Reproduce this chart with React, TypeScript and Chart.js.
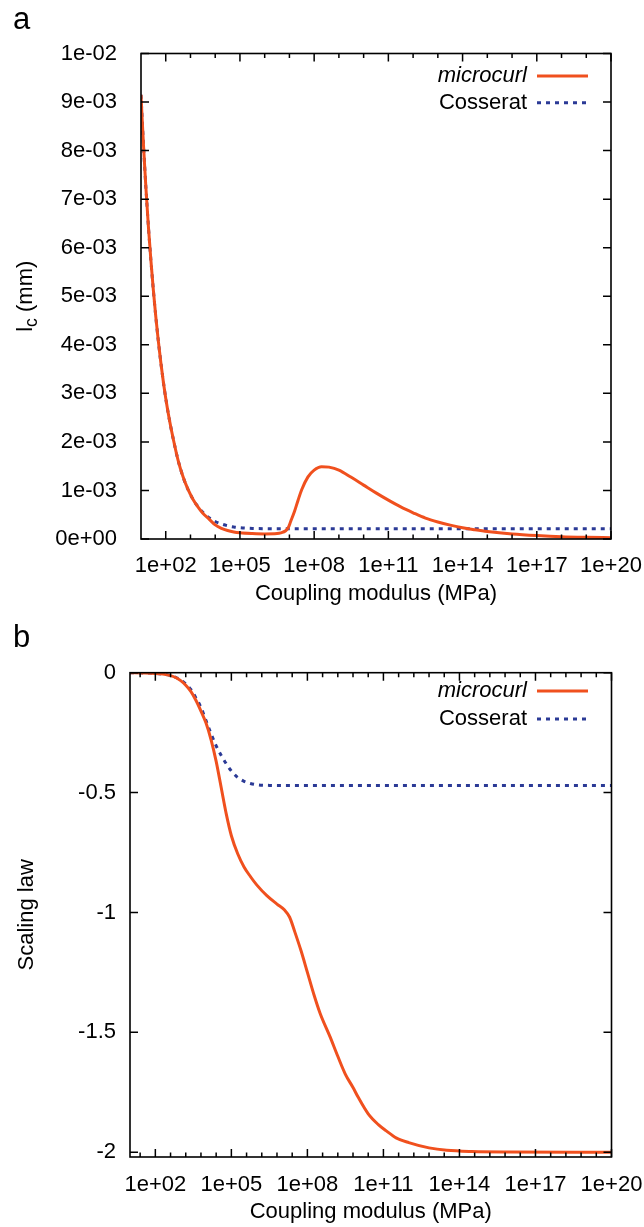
import React, { useEffect, useRef } from "react";
import { Chart, registerables } from "chart.js";

Chart.register(...registerables);

const FONT = '"Liberation Sans", Arial, Helvetica, sans-serif';
const ORANGE = "#f0501e";
const BLUE = "#2b3a96";

// Panel a: internal length l_c (mm) versus coupling modulus (exponent of 10, MPa)
const lcExponents = [
  1.0, 1.05, 1.1, 1.15, 1.2, 1.3, 1.4, 1.5, 1.6, 1.7, 1.8, 1.9, 2.0, 2.15, 2.3, 2.5, 2.7, 2.9,
  3.1, 3.3, 3.5, 3.75, 4.0, 4.25, 4.5, 4.75, 5.0, 5.5, 6.0, 6.5, 6.65, 6.85, 6.95, 7.05, 7.2,
  7.35, 7.5, 7.75, 8.0, 8.3, 8.6, 9.0, 9.5, 10.0, 10.5, 11.0, 11.5, 12.0, 12.5, 13.0, 13.5,
  14.0, 14.5, 15.0, 16.0, 17.0, 18.0, 19.0, 20.0,
];
const lcMicrocurl = [
  9.15e-3, 8.62e-3, 8.12e-3, 7.66e-3, 7.22e-3, 6.43e-3, 5.74e-3, 5.12e-3, 4.57e-3, 4.08e-3,
  3.64e-3, 3.25e-3, 2.9e-3, 2.45e-3, 2.07e-3, 1.62e-3, 1.28e-3, 1.02e-3, 0.82e-3, 0.66e-3,
  0.53e-3, 0.41e-3, 0.29e-3, 0.22e-3, 0.175e-3, 0.145e-3, 0.128e-3, 0.112e-3, 0.104e-3,
  0.112e-3, 0.126e-3, 0.17e-3, 0.23e-3, 0.36e-3, 0.56e-3, 0.8e-3, 1.02e-3, 1.28e-3, 1.42e-3,
  1.49e-3, 1.48e-3, 1.42e-3, 1.27e-3, 1.11e-3, 0.95e-3, 0.8e-3, 0.66e-3, 0.54e-3, 0.43e-3,
  0.35e-3, 0.285e-3, 0.23e-3, 0.19e-3, 0.155e-3, 0.105e-3, 0.072e-3, 0.048e-3, 0.035e-3,
  0.027e-3,
];
const lcCosseratExponents = [
  1.0, 1.05, 1.1, 1.15, 1.2, 1.3, 1.4, 1.5, 1.6, 1.7, 1.8, 1.9, 2.0, 2.15, 2.3, 2.5, 2.7, 2.9,
  3.1, 3.3, 3.5, 3.75, 4.0, 4.25, 4.5, 4.75, 5.0, 5.5, 6.0, 6.5, 7.0, 10.0, 14.0, 20.0,
];
const lcCosserat = [
  9.15e-3, 8.62e-3, 8.12e-3, 7.66e-3, 7.22e-3, 6.43e-3, 5.74e-3, 5.12e-3, 4.57e-3, 4.08e-3,
  3.64e-3, 3.25e-3, 2.9e-3, 2.45e-3, 2.07e-3, 1.62e-3, 1.28e-3, 1.02e-3, 0.82e-3, 0.67e-3,
  0.55e-3, 0.44e-3, 0.36e-3, 0.31e-3, 0.272e-3, 0.248e-3, 0.233e-3, 0.218e-3, 0.212e-3,
  0.21e-3, 0.21e-3, 0.21e-3, 0.21e-3, 0.21e-3,
];

// Panel b: scaling law exponent versus coupling modulus
const scalingExponents = [
  1.0, 1.5, 2.0, 2.3, 2.6, 2.8, 3.0, 3.2, 3.4, 3.6, 3.8, 4.0, 4.2, 4.4, 4.6, 4.8, 5.0, 5.25,
  5.5, 5.75, 6.0, 6.4, 6.8, 7.1, 7.3, 7.5, 7.75, 8.0, 8.25, 8.5, 8.9, 9.2, 9.5, 9.8, 10.0,
  10.4, 10.8, 11.1, 11.5, 12.0, 12.8, 13.5, 14.5, 16.0, 20.0,
];
const scalingMicrocurl = [
  0, -0.001, -0.003, -0.006, -0.012, -0.02, -0.033, -0.052, -0.078, -0.115, -0.16, -0.21,
  -0.28, -0.37, -0.48, -0.59, -0.68, -0.755, -0.81, -0.85, -0.885, -0.93, -0.965, -0.99,
  -1.02, -1.08, -1.16, -1.25, -1.34, -1.42, -1.52, -1.6, -1.675, -1.73, -1.77, -1.84,
  -1.885, -1.91, -1.94, -1.96, -1.982, -1.992, -1.997, -1.999, -2.0,
];
const scalingCosseratExponents = [
  1.0, 1.5, 2.0, 2.3, 2.6, 2.8, 3.0, 3.2, 3.4, 3.6, 3.8, 4.0, 4.2, 4.4, 4.6, 4.8, 5.0, 5.25,
  5.5, 5.75, 6.0, 6.5, 7.0, 12.0, 20.0,
];
const scalingCosserat = [
  0, -0.001, -0.003, -0.006, -0.012, -0.019, -0.03, -0.047, -0.07, -0.105, -0.145, -0.2,
  -0.255, -0.305, -0.345, -0.38, -0.41, -0.437, -0.453, -0.462, -0.467, -0.47, -0.471,
  -0.471, -0.471,
];

// Axis ticks
const xMajorTicks = [1e2, 1e5, 1e8, 1e11, 1e14, 1e17, 1e20];
const xTickLabels = ["1e+02", "1e+05", "1e+08", "1e+11", "1e+14", "1e+17", "1e+20"];
const xMinorExponentsA = [3, 4, 6, 7, 9, 10, 12, 13, 15, 16, 18, 19];
const xMinorExponentsB = [
  1.4, 2.6, 3.2, 3.8, 4.4, 5.6, 6.2, 6.8, 7.4, 8.6, 9.2, 9.8, 10.4, 11.6, 12.2, 12.8, 13.4,
  14.6, 15.2, 15.8, 16.4, 17.6, 18.2, 18.8, 19.4,
];
const yTicksA = [0, 1e-3, 2e-3, 3e-3, 4e-3, 5e-3, 6e-3, 7e-3, 8e-3, 9e-3, 1e-2];
const yTickLabelsA = [
  "0e+00", "1e-03", "2e-03", "3e-03", "4e-03", "5e-03", "6e-03", "7e-03", "8e-03", "9e-03", "1e-02",
];
const yTicksB = [0, -0.5, -1, -1.5, -2];
const yTickLabelsB = ["0", "-0.5", "-1", "-1.5", "-2"];

const seriesLabels = ["microcurl", "Cosserat"];
const legendItalic = [true, false];

const toPoints = (exps: number[], vals: number[]) =>
  exps.map((e, i) => ({ x: Math.pow(10, e), y: vals[i] }));

interface PanelSpec {
  width: number;
  height: number;
  area: { left: number; right: number; top: number; bottom: number };
  letter: string;
  letterBaseline: number;
  yMin: number;
  yMax: number;
  yTicks: number[];
  yTickLabels: string[];
  yTickPad: number;
  xTickPad: number;
  xMinorExponents: number[];
  xTitleBaseline: number;
  yTitleBaselineX: number;
  yTitle: "lc" | "scaling";
  legendRows: number[];
  legendTextRight: number;
  legendSample: [number, number];
  microcurl: { x: number; y: number }[];
  cosserat: { x: number; y: number }[];
}

function makeChart(canvas: HTMLCanvasElement, p: PanelSpec) {
  const decoration = {
    id: "decoration",
    afterDatasetsDraw(chart: any) {
      const { ctx, chartArea: a, scales } = chart;
      const xs = scales.x;
      const ys = scales.y;
      ctx.save();
      ctx.strokeStyle = "#000";
      ctx.lineWidth = 1.5;
      ctx.beginPath();
      const xTick = (v: number, len: number) => {
        const px = xs.getPixelForValue(v);
        ctx.moveTo(px, a.bottom);
        ctx.lineTo(px, a.bottom - len);
        ctx.moveTo(px, a.top);
        ctx.lineTo(px, a.top + len);
      };
      xMajorTicks.forEach((v) => xTick(v, 8));
      p.xMinorExponents.forEach((e) => xTick(Math.pow(10, e), 4.5));
      p.yTicks.forEach((v) => {
        const py = ys.getPixelForValue(v);
        ctx.moveTo(a.left, py);
        ctx.lineTo(a.left + 8, py);
        ctx.moveTo(a.right, py);
        ctx.lineTo(a.right - 8, py);
      });
      ctx.stroke();
      ctx.lineWidth = 1.6;
      ctx.strokeRect(a.left, a.top, a.right - a.left, a.bottom - a.top);

      // legend
      ctx.textBaseline = "middle";
      ctx.textAlign = "right";
      chart.data.datasets.forEach((ds: any, i: number) => {
        const yy = p.legendRows[i];
        ctx.fillStyle = "#000";
        ctx.font = `${legendItalic[i] ? "italic " : ""}22px ${FONT}`;
        ctx.fillText(ds.label, p.legendTextRight, yy);
        ctx.save();
        ctx.strokeStyle = ds.borderColor;
        ctx.lineWidth = ds.borderWidth;
        ctx.setLineDash(ds.borderDash || []);
        ctx.beginPath();
        ctx.moveTo(p.legendSample[0], yy);
        ctx.lineTo(p.legendSample[1], yy);
        ctx.stroke();
        ctx.restore();
      });

      // axis titles
      ctx.fillStyle = "#000";
      ctx.textAlign = "center";
      ctx.textBaseline = "alphabetic";
      ctx.font = `22px ${FONT}`;
      ctx.fillText("Coupling modulus (MPa)", (a.left + a.right) / 2, p.xTitleBaseline);

      ctx.save();
      ctx.translate(p.yTitleBaselineX, (a.top + a.bottom) / 2);
      ctx.rotate(-Math.PI / 2);
      ctx.textAlign = "left";
      if (p.yTitle === "lc") {
        const mainFont = `22px ${FONT}`;
        const subFont = `17.6px ${FONT}`;
        ctx.font = mainFont;
        const w1 = ctx.measureText("l").width;
        const w3 = ctx.measureText(" (mm)").width;
        ctx.font = subFont;
        const w2 = ctx.measureText("c").width;
        let cx = -(w1 + w2 + w3) / 2;
        ctx.font = mainFont;
        ctx.fillText("l", cx, 0);
        cx += w1;
        ctx.font = subFont;
        ctx.fillText("c", cx, 5);
        cx += w2;
        ctx.font = mainFont;
        ctx.fillText(" (mm)", cx, 0);
      } else {
        ctx.textAlign = "center";
        ctx.fillText("Scaling law", 0, 0);
      }
      ctx.restore();

      // panel letter
      ctx.textAlign = "left";
      ctx.font = `31px ${FONT}`;
      ctx.fillText(p.letter, 13, p.letterBaseline);
      ctx.restore();
    },
  };

  return new Chart(canvas, {
    type: "line",
    data: {
      datasets: [
        {
          label: seriesLabels[0],
          data: p.microcurl,
          borderColor: ORANGE,
          borderWidth: 3,
          pointRadius: 0,
          cubicInterpolationMode: "monotone",
          fill: false,
        },
        {
          label: seriesLabels[1],
          data: p.cosserat,
          borderColor: BLUE,
          borderWidth: 3,
          borderDash: [4, 5],
          borderCapStyle: "butt",
          pointRadius: 0,
          cubicInterpolationMode: "monotone",
          fill: false,
        },
      ],
    },
    options: {
      responsive: false,
      animation: false,
      devicePixelRatio: 1,
      layout: {
        padding: {
          left: 0,
          right: p.width - p.area.right,
          top: p.area.top,
          bottom: 0,
        },
      },
      plugins: {
        legend: { display: false },
        tooltip: { enabled: false },
      },
      scales: {
        x: {
          type: "logarithmic",
          min: 10,
          max: 1e20,
          grid: { display: false, drawTicks: false },
          border: { display: false },
          afterBuildTicks: (s: any) => {
            s.ticks = xMajorTicks.map((v) => ({ value: v }));
          },
          afterFit: (s: any) => {
            s.height = p.height - p.area.bottom;
            s.paddingLeft = 0;
            s.paddingRight = 0;
          },
          ticks: {
            autoSkip: false,
            maxRotation: 0,
            minRotation: 0,
            padding: p.xTickPad,
            color: "#000",
            font: { family: FONT, size: 22 },
            callback: (_v: any, i: number) => xTickLabels[i],
          },
        },
        y: {
          type: "linear",
          min: p.yMin,
          max: p.yMax,
          grid: { display: false, drawTicks: false },
          border: { display: false },
          afterBuildTicks: (s: any) => {
            s.ticks = p.yTicks.map((v) => ({ value: v }));
          },
          afterFit: (s: any) => {
            s.width = p.area.left;
            s.paddingTop = 0;
            s.paddingBottom = 0;
          },
          ticks: {
            autoSkip: false,
            padding: p.yTickPad,
            color: "#000",
            font: { family: FONT, size: 22 },
            callback: (_v: any, i: number) => p.yTickLabels[i],
          },
        },
      },
    } as any,
    plugins: [decoration as any],
  });
}

const panelA: PanelSpec = {
  width: 644,
  height: 614,
  area: { left: 141, right: 611, top: 53.5, bottom: 539 },
  letter: "a",
  letterBaseline: 29,
  yMin: 0,
  yMax: 0.01,
  yTicks: yTicksA,
  yTickLabels: yTickLabelsA,
  yTickPad: 24,
  xTickPad: 14,
  xMinorExponents: xMinorExponentsA,
  xTitleBaseline: 600,
  yTitleBaselineX: 32,
  yTitle: "lc",
  legendRows: [76, 102.7],
  legendTextRight: 527,
  legendSample: [537, 588],
  microcurl: toPoints(lcExponents, lcMicrocurl),
  cosserat: toPoints(lcCosseratExponents, lcCosserat),
};

const panelB: PanelSpec = {
  width: 644,
  height: 613,
  area: { left: 130, right: 611.5, top: 58.7, bottom: 543 },
  letter: "b",
  letterBaseline: 33,
  yMin: -2.02,
  yMax: 0,
  yTicks: yTicksB,
  yTickLabels: yTickLabelsB,
  yTickPad: 14,
  xTickPad: 15,
  xMinorExponents: xMinorExponentsB,
  xTitleBaseline: 604,
  yTitleBaselineX: 33,
  yTitle: "scaling",
  legendRows: [77, 105],
  legendTextRight: 527,
  legendSample: [537, 588],
  microcurl: toPoints(scalingExponents, scalingMicrocurl),
  cosserat: toPoints(scalingCosseratExponents, scalingCosserat),
};

export default function App() {
  const refA = useRef<HTMLCanvasElement>(null);
  const refB = useRef<HTMLCanvasElement>(null);

  useEffect(() => {
    document.body.style.margin = "0";
    const a = makeChart(refA.current!, panelA);
    const b = makeChart(refB.current!, panelB);
    return () => {
      a.destroy();
      b.destroy();
    };
  }, []);

  return (
    <div style={{ position: "absolute", left: 0, top: 0, width: 644, background: "#fff" }}>
      <canvas ref={refA} width={panelA.width} height={panelA.height} style={{ display: "block" }} />
      <canvas ref={refB} width={panelB.width} height={panelB.height} style={{ display: "block" }} />
    </div>
  );
}
